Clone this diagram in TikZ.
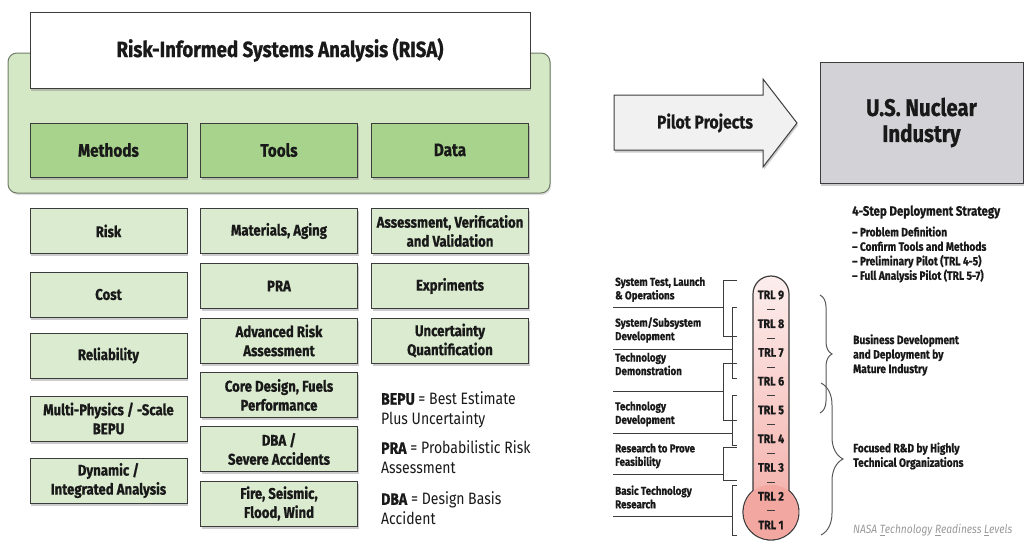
\documentclass[tikz,border=0pt]{standalone}
\usepackage{fontspec}
\setmainfont{Fira Sans}[FakeStretch=0.85, BoldFeatures={FakeBold=0.8}]
\usetikzlibrary{shadows,decorations.pathreplacing}

\definecolor{panelgreen}{HTML}{D5E8C6}
\definecolor{paneledge}{HTML}{6F7D66}
\definecolor{catgreen}{HTML}{A7D38C}
\definecolor{itemgreen}{HTML}{DAEBCF}
\definecolor{edgegrey}{HTML}{3C3C3C}
\definecolor{usgrey}{HTML}{D3D3D7}
\definecolor{arrowgrey}{HTML}{F1F1F1}
\definecolor{trlpink}{HTML}{F3A7A1}
\definecolor{trltop}{HTML}{FCEEED}

\begin{document}
\begin{tikzpicture}[x=1pt, y=-1pt,
    every node/.style={text=black!90, font=\bfseries},
    sbox/.style={draw=edgegrey, line width=1pt, drop shadow={shadow xshift=1pt, shadow yshift=-2.5pt, opacity=.4}},
    cat/.style={sbox, fill=catgreen, minimum width=157pt, minimum height=54pt, font=\bfseries\fontsize{18}{21}\selectfont},
    item/.style={sbox, fill=itemgreen, minimum width=157pt, minimum height=45pt, align=center, inner sep=1pt, font=\bfseries\fontsize{15.5}{19}\selectfont},
    legend/.style={anchor=west, align=left, inner sep=0pt, font=\fontsize{16.5}{20}\selectfont},
    trl/.style={inner sep=0pt, font=\bfseries\fontsize{12.5}{14}\selectfont},
    lvl/.style={anchor=west, align=left, inner sep=0pt, font=\bfseries\fontsize{11.5}{13.5}\selectfont},
    note/.style={anchor=west, align=left, inner sep=0pt, font=\bfseries\fontsize{12}{14.5}\selectfont},
    thin line/.style={draw=edgegrey, line width=.8pt}]
    \useasboundingbox (0,0) rectangle (1026,542);

    % RISA panel
    \node[draw=paneledge, fill=panelgreen, line width=1pt, rounded corners=9pt, minimum width=542pt, minimum height=140pt,
          drop shadow={shadow xshift=1pt, shadow yshift=-2pt, opacity=.25}] (panel) at (279,123) {};
    \node[sbox, fill=white, minimum width=500pt, minimum height=76pt, font=\bfseries\fontsize{22}{25}\selectfont] (risa) at (280,50) {Risk-Informed Systems Analysis (RISA)};
    \node[cat] (m) at (108.5,150) {Methods};
    \node[cat] (t) at (279,150) {Tools};
    \node[cat] (d) at (450,150) {Data};

    % columns
    \node[item] (risk) at (108.5,231) {Risk};
    \node[item] (cost) at (108.5,294.5) {Cost};
    \node[item] (rel) at (108.5,355.5) {Reliability};
    \node[item] (multi) at (108.5,418.5) {Multi-Physics / -Scale\\BEPU};
    \node[item] (dyn) at (108.5,480.5) {Dynamic /\\Integrated Analysis};
    \node[item] (mat) at (279,231) {Materials, Aging};
    \node[item] (pra) at (279,286) {PRA};
    \node[item] (adv) at (279,340.5) {Advanced Risk\\Assessment};
    \node[item] (core) at (279,395) {Core Design, Fuels\\Performance};
    \node[item] (dba) at (279,449) {DBA /\\Severe Accidents};
    \node[item] (fire) at (279,503.5) {Fire, Seismic,\\Flood, Wind};
    \node[item] (avv) at (450,231) {Assessment, Verification\\and Validation};
    \node[item] (exp) at (450,286) {Expriments};
    \node[item] (uq) at (450,340.5) {Uncertainty\\Quantification};

    % acronyms
    \node[legend] (bepu) at (381,410) {\textbf{BEPU} = Best Estimate\\Plus Uncertainty};
    \node[legend] (prad) at (381,457.5) {\textbf{PRA} = Probabilistic Risk\\Assessment};
    \node[legend] (dbad) at (381,508.5) {\textbf{DBA} = Design Basis\\Accident};

    % pilot arrow and industry
    \draw[draw=edgegrey, line width=1pt, fill=arrowgrey, drop shadow={shadow xshift=1pt, shadow yshift=-2.5pt, opacity=.4}]
        (614,95) -- (763,95) -- (763,79) -- (797,123) -- (763,167) -- (763,150) -- (614,150) -- cycle;
    \node[font=\bfseries\fontsize{18.5}{21}\selectfont] (pilot) at (705,123) {Pilot Projects};
    \node[sbox, fill=usgrey, minimum width=203pt, minimum height=121pt, align=center, font=\bfseries\fontsize{24}{26}\selectfont] (us) at (921.5,122.5) {U.S. Nuclear\\Industry};

    \node[anchor=west, inner sep=0pt, font=\bfseries\fontsize{13.5}{15}\selectfont] (strat) at (852,212) {4-Step Deployment Strategy};
    \node[note] (steps) at (852,254.5) {-- Problem Definition\\-- Confirm Tools and Methods\\-- Preliminary Pilot (TRL 4-5)\\-- Full Analysis Pilot (TRL 5-7)};

    % thermometer
    \draw[edgegrey, line width=1.2pt, top color=trltop, bottom color=trlpink]
        (753,294) arc[start angle=180, end angle=360, radius=18] -- (789,490.6)
        arc[start angle=-50, end angle=230, radius=28] -- cycle;
    \fill[trlpink] (771,512) circle[radius=27.3];
    \foreach \n in {1,...,9}
        \node[trl] (trl\n) at (771,{295+(9-\n)*28.75}) {TRL \n};
    \foreach \n in {1,...,8}
        \draw[thin line] (767,{309.4+(8-\n)*28.75}) -- (775,{309.4+(8-\n)*28.75});

    \node[lvl] (l9) at (615,289.5) {System Test, Launch\\\& Operations};
    \node[lvl] (l78) at (615,330) {System/Subsystem\\Development};
    \node[lvl] (l6) at (615,364) {Technology\\Demonstration};
    \node[lvl] (l5) at (615,414) {Technology\\Development};
    \node[lvl] (l34) at (615,456) {Research to Prove\\Feasibility};
    \node[lvl] (l12) at (615,497) {Basic Technology\\Research};
    \foreach \bx/\ta/\tb in {723/280/336, 732/307/378, 723/363/420, 732/395/445, 723/447/480, 732/485/535}
        \draw[thin line] (737,\ta) -- (\bx,\ta) -- (\bx,\tb) -- (737,\tb);
    \foreach \sy/\bx in {307/723, 349/732, 391/723, 433/732, 474/723, 516/732}
        \draw[thin line] (613,\sy) -- (\bx,\sy);

    % readiness braces
    \draw[draw=black!65, line width=1pt, decorate, decoration={brace, amplitude=12pt}] (820,295) -- (820,413);
    \draw[draw=black!65, line width=1pt, decorate, decoration={brace, amplitude=22pt}] (821,383) -- (821,535);
    \node[note] (biz) at (853,355) {Business Development\\and Deployment by\\Mature Industry};
    \node[note] (rnd) at (853,456) {Focused R\&D by Highly\\Technical Organizations};
    \node[note, text=black!40, font=\itshape\fontsize{12}{14}\selectfont] (nasa) at (853,530) {NASA \underline{T}echnology \underline{R}eadiness \underline{L}evels};
\end{tikzpicture}
\end{document}
